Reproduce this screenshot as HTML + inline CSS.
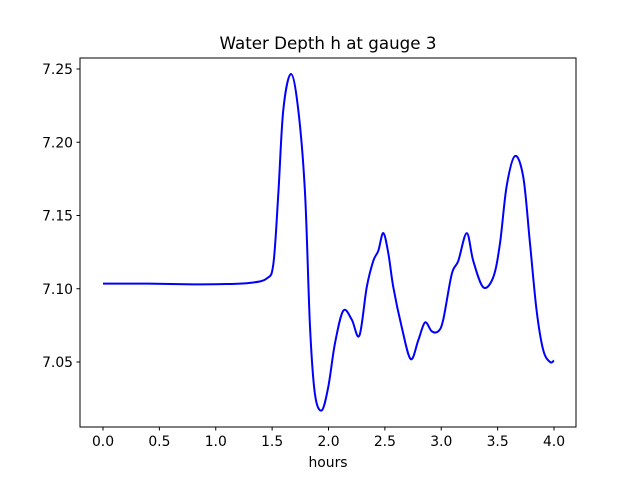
<!DOCTYPE html>
<html><head><meta charset="utf-8"><style>
body{margin:0;background:#fff}
svg{display:block;font-family:"DejaVu Sans","Liberation Sans",sans-serif}
</style></head><body>
<svg id="chart" width="640" height="480">
<rect width="640" height="480" fill="#fff"/>
<text x="328" y="49" text-anchor="middle" font-size="16.7">Water Depth h at gauge 3</text>
<g id="plot"></g>
<rect x="80" y="58" width="496" height="369" fill="none" stroke="#000" stroke-width="1"/>
<text x="328" y="467" text-anchor="middle" font-size="13.9">hours</text>
</svg>
<script>
const hours=[0,0.4,0.8,1.1,1.304,1.452,1.511,1.555,1.599,1.667,1.732,1.792,1.836,1.88,1.94,1.998,2.058,2.131,2.206,2.274,2.339,2.397,2.442,2.486,2.531,2.575,2.649,2.729,2.797,2.856,2.915,2.974,3.018,3.093,3.151,3.226,3.284,3.373,3.462,3.521,3.58,3.654,3.728,3.787,3.846,3.905,3.965,4.0];
const depth=[7.1035,7.1035,7.103,7.1032,7.104,7.107,7.117,7.165,7.222,7.2466,7.222,7.165,7.074,7.028,7.017,7.033,7.063,7.085,7.079,7.068,7.101,7.119,7.126,7.138,7.124,7.101,7.074,7.052,7.065,7.077,7.071,7.071,7.079,7.110,7.119,7.138,7.119,7.101,7.108,7.131,7.170,7.1906,7.176,7.131,7.085,7.058,7.050,7.051];
const xTicks=[0,0.5,1,1.5,2,2.5,3,3.5,4];
const xTickLabels=["0.0","0.5","1.0","1.5","2.0","2.5","3.0","3.5","4.0"];
const yTicks=[7.05,7.10,7.15,7.20,7.25];
const yTickLabels=["7.05","7.10","7.15","7.20","7.25"];
const X=v=>103+v*112.75;
const Y=v=>69+(7.25-v)/0.05*73.25;
const NS="http://www.w3.org/2000/svg";
const g=document.getElementById('plot');
function mk(t,a){const e=document.createElementNS(NS,t);for(const k in a)e.setAttribute(k,a[k]);g.appendChild(e);return e;}
xTicks.forEach((t,i)=>{
 const l=mk('line',{x1:X(t),x2:X(t),y1:427,y2:430.5,stroke:'#000'});
 
 
 const tx=mk('text',{x:X(t),y:446,'text-anchor':'middle','font-size':13.9});
 tx.textContent=xTickLabels[i];
 
 
});
yTicks.forEach((t,i)=>{
 const l=mk('line',{x1:76.5,x2:80,y1:Y(t),y2:Y(t),stroke:'#000'});
 
 
 const tx=mk('text',{x:73,y:Y(t)+5,'text-anchor':'end','font-size':13.9});
 tx.textContent=yTickLabels[i];
 
 
});
const P=hours.map((h,i)=>[X(h),Y(depth[i])]);
let d='M'+P[0][0]+','+P[0][1];
for(let i=0;i<P.length-1;i++){
 const p0=P[Math.max(0,i-1)],p1=P[i],p2=P[i+1],p3=P[Math.min(P.length-1,i+2)];
 const c1=[p1[0]+(p2[0]-p0[0])/6,p1[1]+(p2[1]-p0[1])/6];
 const c2=[p2[0]-(p3[0]-p1[0])/6,p2[1]-(p3[1]-p1[1])/6];
 d+=`C${c1[0]},${c1[1]} ${c2[0]},${c2[1]} ${p2[0]},${p2[1]}`;
}
const line=mk('path',{d:d,fill:'none',stroke:'#0000ff','stroke-width':2,'stroke-linejoin':'round'});


</script>
</body></html>
